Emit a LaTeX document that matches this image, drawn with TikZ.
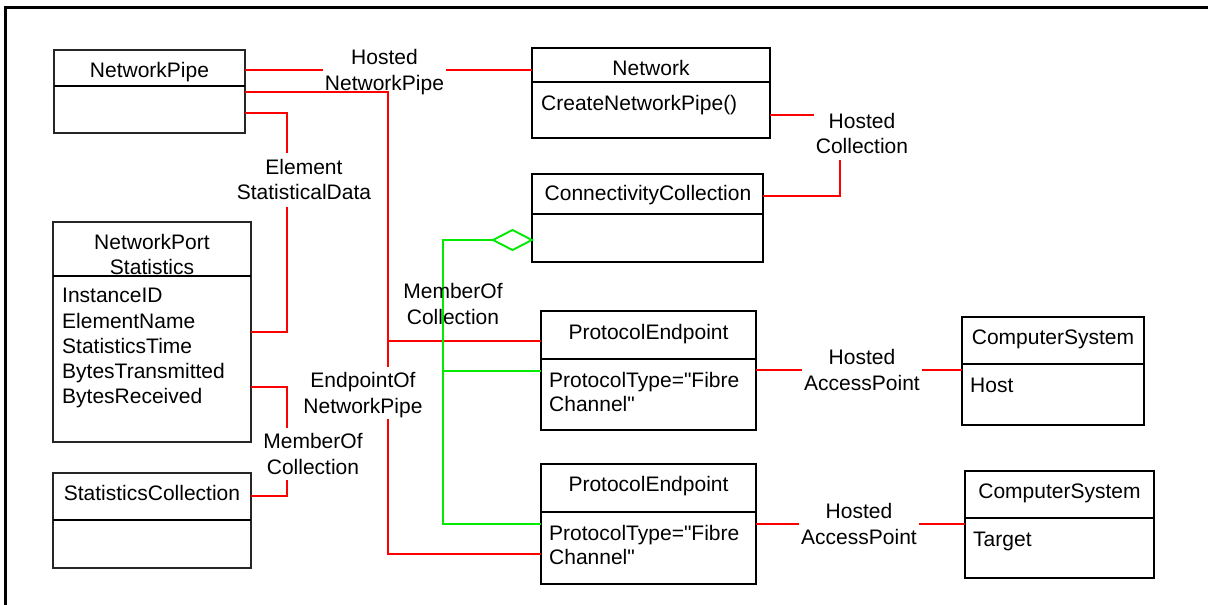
\documentclass[tikz,border=0pt]{standalone}
\usepackage{fontspec}
\setmainfont{Liberation Sans}[Ligatures=TeXOff]
\definecolor{umlred}{RGB}{255,0,0}
\definecolor{umlgreen}{RGB}{0,235,0}
\begin{document}
\begin{tikzpicture}[x=1pt,y=-1pt,
  box/.style={draw=black, line width=1.7pt, anchor=north west, inner sep=0pt, outer sep=0pt},
  thinbox/.style={box, line width=1.2pt, draw=black!85},
  txt/.style={font=\fontsize{21}{25.25}\selectfont, inner sep=0pt},
  lbl/.style={txt, align=center, inner sep=2pt},
  rl/.style={draw=umlred, line width=1.2pt},
  rlt/.style={draw=umlred, line width=1.7pt},
  gl/.style={draw=umlgreen, line width=1.9pt},
  div/.style={line width=1.5pt}]
\useasboundingbox (0,0) rectangle (1208,605);
% frame
\draw[line width=3pt] (5,605) -- (5,7) -- (1208,7);

% ---- boxes ----
\node[thinbox, minimum width=191pt, minimum height=83pt] (np) at (54,50) {};
\draw[div, line width=1.1pt] (np.west |- 0,86) -- (np.east |- 0,86);
\node[txt, anchor=base] (npT) at (149.5,77.5) {NetworkPipe};

\node[box, minimum width=238pt, minimum height=90pt] (net) at (532,48) {};
\draw[div] (net.west |- 0,82) -- (net.east |- 0,82);
\node[txt, anchor=base] (netT) at (651,75.5) {Network};
\node[txt, anchor=base west] (netB) at (541,110.5) {CreateNetworkPipe()};

\node[box, minimum width=231pt, minimum height=88pt] (cc) at (532,174) {};
\draw[div] (cc.west |- 0,214) -- (cc.east |- 0,214);
\node[txt, anchor=base] (ccT) at (648,200.5) {ConnectivityCollection};

\node[thinbox, minimum width=198pt, minimum height=220pt] (nps) at (53,222) {};
\draw[div, line width=1.1pt] (nps.west |- 0,276) -- (nps.east |- 0,276);
\node[txt, align=center, anchor=center] (npsT) at (152,254.5) {NetworkPort\\Statistics};
\node[txt, align=left, anchor=north west] (npsB) at (62,288.3)
  {InstanceID\\ElementName\\StatisticsTime\\BytesTransmitted\\BytesReceived};

\node[thinbox, minimum width=198pt, minimum height=95pt] (sc) at (53,473) {};
\draw[div, line width=1.1pt] (sc.west |- 0,520) -- (sc.east |- 0,520);
\node[txt, anchor=base] (scT) at (152,500.5) {StatisticsCollection};

\node[box, minimum width=215pt, minimum height=119pt] (pe1) at (541,311) {};
\draw[div] (pe1.west |- 0,359) -- (pe1.east |- 0,359);
\node[txt, anchor=base] (pe1T) at (648.5,339.5) {ProtocolEndpoint};
\node[txt, font=\fontsize{21}{23.3}\selectfont, align=left, anchor=north west] (pe1B) at (549,372.3) {ProtocolType="Fibre\\Channel"};

\node[box, minimum width=215pt, minimum height=120pt] (pe2) at (541,464) {};
\draw[div] (pe2.west |- 0,512) -- (pe2.east |- 0,512);
\node[txt, anchor=base] (pe2T) at (648.5,491.5) {ProtocolEndpoint};
\node[txt, font=\fontsize{21}{23.3}\selectfont, align=left, anchor=north west] (pe2B) at (549,525.3) {ProtocolType="Fibre\\Channel"};

\node[box, minimum width=182pt, minimum height=108pt] (cs1) at (962,317) {};
\draw[div] (cs1.west |- 0,364) -- (cs1.east |- 0,364);
\node[txt, anchor=base] (cs1T) at (1053,344.5) {ComputerSystem};
\node[txt, anchor=base west] (cs1B) at (970,392.5) {Host};

\node[box, minimum width=189pt, minimum height=107pt] (cs2) at (965,471) {};
\draw[div] (cs2.west |- 0,518) -- (cs2.east |- 0,518);
\node[txt, anchor=base] (cs2T) at (1059.5,498.5) {ComputerSystem};
\node[txt, anchor=base west] (cs2B) at (973,546.5) {Target};

% ---- labels ----
\node[lbl] (hnp) at (384.5,72) {Hosted\\NetworkPipe};
\node[lbl] (hc) at (862,133.5) {Hosted\\Collection};
\node[lbl] (esd) at (304,179.5) {Element\\StatisticalData};
\node[lbl] (eon) at (363,395) {EndpointOf\\NetworkPipe};
\node[lbl] (moc1) at (313,454) {MemberOf\\Collection};
\node[lbl] (hap1) at (862,370) {Hosted\\AccessPoint};
\node[lbl] (hap2) at (859,524) {Hosted\\AccessPoint};

% ---- coordinates ----
\coordinate (hcB) at (840,160);
\coordinate (esdT) at (287,153);
\coordinate (esdB) at (287,207);
\coordinate (eonT) at (388,367);
\coordinate (eonB) at (388,419);
\coordinate (rj1) at (388,341);
\coordinate (mocT) at (287,428);
\coordinate (mocB) at (287,480);
\coordinate (dl) at (493,240);
\coordinate (gj1) at (443,371);

% ---- red connectors ----
\draw[rlt] (np.east |- 0,70) -- (hnp.west |- 0,70);
\draw[rlt] (hnp.east |- 0,70) -- (net.west |- 0,70);
\draw[rlt] (net.east |- 0,115) -- (hc.west |- 0,115);
\draw[rlt] (hcB) |- (cc.east |- 0,196);
\draw[rl] (np.east |- 0,113) -| (esdT);
\draw[rl] (esdB) |- (nps.east |- 0,332);
\draw[rl] (np.east |- 0,92) -| (eonT);
\draw[rl] (eonB) |- (pe2.west |- 0,554);
\draw[rl] (rj1) -- (pe1.west |- 0,341);
\draw[rl] (nps.east |- 0,387) -| (mocT);
\draw[rl] (mocB) |- (sc.east |- 0,496);
\draw[rlt] (pe1.east |- hap1) -- (hap1.west);
\draw[rlt] (hap1.east) -- (cs1.west |- hap1);
\draw[rlt] (pe2.east |- hap2) -- (hap2.west);
\draw[rlt] (hap2.east) -- (cs2.west |- hap2);

% ---- green aggregation ----
\draw[gl, fill=white] (cc.west |- 0,240) -- ++(-19.5,-10) -- (dl) -- ++(19.5,10) -- cycle;
\draw[gl] (dl) -- (443,240) -- (443,524) -- (pe2.west |- 0,524);
\draw[gl] (gj1) -- (pe1.west |- gj1);
\node[lbl] (moc2) at (453,304) {MemberOf\\Collection};
\end{tikzpicture}
\end{document}
